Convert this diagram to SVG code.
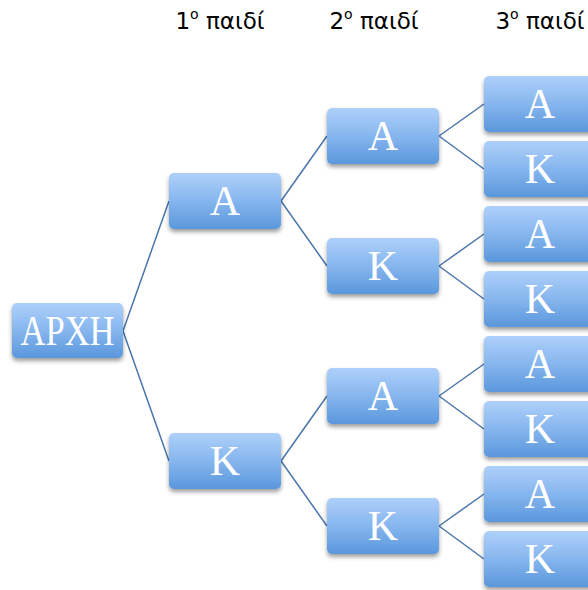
<svg xmlns="http://www.w3.org/2000/svg" width="588" height="590" viewBox="0 0 588 590">
<defs>
<linearGradient id="g" x1="0" y1="0" x2="0" y2="1">
<stop offset="0" stop-color="#aed0fa"/>
<stop offset="0.5" stop-color="#86b6ee"/>
<stop offset="1" stop-color="#5a97dc"/>
</linearGradient>
<filter id="sh" x="-20%" y="-20%" width="140%" height="150%">
<feDropShadow dx="0" dy="3" stdDeviation="2.2" flood-color="#000" flood-opacity="0.38"/>
</filter>
</defs>
<style>
.box{fill:url(#g);filter:url(#sh)}
.t{font-family:"Liberation Serif",serif;font-size:42px;fill:#fff;text-anchor:middle}
.h{font-family:"DejaVu Sans",sans-serif;font-size:23px;fill:#000;text-anchor:middle}
.s{font-size:14px}
.c{stroke:#4a76ab;stroke-width:1.5;fill:none}
</style>
<rect width="588" height="590" fill="#fff"/>
<g id="headers">
<text class="h" x="220" y="29">1<tspan class="s" dy="-10">ο</tspan><tspan dy="10"> παιδί</tspan></text>
<text class="h" x="374" y="29">2<tspan class="s" dy="-10">ο</tspan><tspan dy="10"> παιδί</tspan></text>
<text class="h" x="540" y="29">3<tspan class="s" dy="-10">ο</tspan><tspan dy="10"> παιδί</tspan></text>
</g>
<g id="connectors">
<path class="c" d="M123,331 L169,201 M123,331 L169,461"/>
<path class="c" d="M281,201 L327,136 M281,201 L327,266 M281,461 L327,396 M281,461 L327,526"/>
<path class="c" d="M439,136 L484,104 M439,136 L484,169 M439,266 L484,234 M439,266 L484,299 M439,396 L484,364 M439,396 L484,429 M439,526 L484,494 M439,526 L484,559"/>
</g>
<g id="root"><rect class="box" x="12" y="303" width="111" height="55" rx="5"/><text class="t" x="67.5" y="345" textLength="94" lengthAdjust="spacingAndGlyphs">ΑΡΧΗ</text></g>
<g id="n1A"><rect class="box" x="169" y="173" width="112" height="56" rx="5"/><text class="t" x="225" y="215">Α</text></g>
<g id="n1K"><rect class="box" x="169" y="433" width="112" height="56" rx="5"/><text class="t" x="225" y="475">Κ</text></g>
<g id="n2AA"><rect class="box" x="327" y="108" width="112" height="56" rx="5"/><text class="t" x="383" y="150">Α</text></g>
<g id="n2AK"><rect class="box" x="327" y="238" width="112" height="56" rx="5"/><text class="t" x="383" y="280">Κ</text></g>
<g id="n2KA"><rect class="box" x="327" y="368" width="112" height="56" rx="5"/><text class="t" x="383" y="410">Α</text></g>
<g id="n2KK"><rect class="box" x="327" y="498" width="112" height="56" rx="5"/><text class="t" x="383" y="540">Κ</text></g>
<g id="n3_1"><rect class="box" x="484" y="76" width="112" height="56" rx="5"/><text class="t" x="540" y="118">Α</text></g>
<g id="n3_2"><rect class="box" x="484" y="141" width="112" height="56" rx="5"/><text class="t" x="540" y="183">Κ</text></g>
<g id="n3_3"><rect class="box" x="484" y="206" width="112" height="56" rx="5"/><text class="t" x="540" y="248">Α</text></g>
<g id="n3_4"><rect class="box" x="484" y="271" width="112" height="56" rx="5"/><text class="t" x="540" y="313">Κ</text></g>
<g id="n3_5"><rect class="box" x="484" y="336" width="112" height="56" rx="5"/><text class="t" x="540" y="378">Α</text></g>
<g id="n3_6"><rect class="box" x="484" y="401" width="112" height="56" rx="5"/><text class="t" x="540" y="443">Κ</text></g>
<g id="n3_7"><rect class="box" x="484" y="466" width="112" height="56" rx="5"/><text class="t" x="540" y="508">Α</text></g>
<g id="n3_8"><rect class="box" x="484" y="531" width="112" height="56" rx="5"/><text class="t" x="540" y="573">Κ</text></g>
</svg>
